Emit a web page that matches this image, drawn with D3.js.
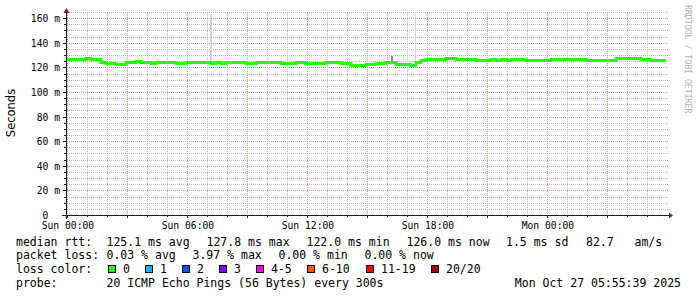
<!DOCTYPE html>
<html>
<head>
<meta charset="utf-8">
<script src="https://cdn.jsdelivr.net/npm/d3@7/dist/d3.min.js"></script>
<style>
  body { margin: 0; background: #fff; }
  svg text { font-family: "DejaVu Sans Mono", monospace; fill: #000; }
</style>
</head>
<body>
<div id="chart"></div>
<script>
// smokeping style graph: last 30 hours, one median per 15 min
var startTime = new Date(2025, 9, 25, 23, 55, 39),
    endTime = new Date(2025, 9, 27, 5, 55, 39);

var medianRtt = [
    127.2, 126.6, 126.6, 126.6, 127.3, 126.4, 126.6, 124.0, 123.4, 123.4,
    122.8, 123.0, 124.5, 124.5, 125.3, 124.2, 124.2, 123.3, 124.0, 124.0,
    124.0, 124.0, 123.3, 123.3, 124.0, 124.0, 124.0, 124.0, 124.0, 123.7,
    124.6, 123.4, 124.6, 124.6, 124.1, 124.1, 123.5, 123.5, 124.6, 124.6,
    124.6, 124.0, 124.0, 123.7, 123.7, 123.7, 124.6, 124.6, 123.8, 123.8,
    123.3, 123.3, 124.1, 124.1, 124.1, 123.3, 123.3, 122.3, 122.3, 122.3,
    122.5, 123.1, 123.3, 123.3, 124.2, 124.2, 123.1, 123.1, 123.1, 122.1,
    124.6, 126.3, 126.6, 126.6, 126.6, 126.6, 127.4, 127.4, 126.9, 126.9,
    126.6, 126.6, 126.1, 126.1, 126.1, 126.4, 126.1, 126.4, 126.1, 126.4,
    126.9, 126.9, 126.1, 126.1, 126.1, 126.1, 126.1, 127.0, 127.0, 127.0,
    126.6, 127.0, 127.0, 126.6, 126.3, 126.3, 126.3, 126.3, 125.6, 125.8,
    127.4, 127.4, 127.4, 127.4, 127.4, 127.0, 127.0, 126.1, 126.1, 126.0
];

// single 5 min samples that lost pings
var lossMinute = [431, 1040];
var lossCount = [1, 1];

// smoke outliers above the median (minutes from start, top in ms)
var smokeMinute = [270, 434, 951, 975, 1047];
var smokeTop = [127.2, 163.0, 126.8, 129.6, 163.0];
var smokeShade = ["#dcdcdc", "#d6d6d6", "#d6d6d6", "#8a8a8a", "#d6d6d6"];

var yTicks = [0, 20, 40, 60, 80, 100, 120, 140, 160];

var lossLabels = ["0", "1", "2", "3", "4-5", "6-10", "11-19", "20/20"];
var lossColors = ["#26ff00", "#00b8ff", "#0059ff", "#7e00ff", "#ff00ff", "#ff5500", "#ff0000", "#a10000"];

var rttStats = ["125.1 ms avg", "127.8 ms max", "122.0 ms min", "126.0 ms now", "1.5 ms sd", "82.7   am/s"];
var lossStats = ["0.03 % avg", "3.97 % max", "0.00 % min", "0.00 % now"];
var probeText = "20 ICMP Echo Pings (56 Bytes) every 300s";
var stampText = "Mon Oct 27 05:55:39 2025";

var W = 697, H = 297;
var svg = d3.select("#chart").append("svg").attr("width", W).attr("height", H);
svg.append("rect").attr("width", W).attr("height", H).attr("fill", "#fff");

var x = d3.scaleTime().domain([startTime, endTime]).range([66, 666]),
    y = d3.scaleLinear().domain([0, 165]).range([215.5, 12.5]);

function px(v) { return Math.floor(v) + 0.5; }

var grid = svg.append("g");

// horizontal grid, minor every 5 ms, major every 20 ms
var yMinor = d3.range(0, 166, 5);
grid.selectAll(".hg").data(yMinor).enter().append("line")
    .attr("x1", 67).attr("x2", 669)
    .attr("y1", function(d) { return px(y(d)); })
    .attr("y2", function(d) { return px(y(d)); })
    .attr("stroke", function(d) { return d % 20 == 0 ? "#e38f8f" : "#b4b4b4"; })
    .attr("stroke-dasharray", "1,1");

// vertical grid, minor every hour, major every 3 hours
var hours = d3.timeHour.range(startTime, endTime);
grid.selectAll(".vg").data(hours).enter().append("line")
    .attr("x1", function(d) { return px(x(d)); })
    .attr("x2", function(d) { return px(x(d)); })
    .attr("y1", 13).attr("y2", 215)
    .attr("stroke", function(d) { return d.getHours() % 3 == 0 ? "#e38f8f" : "#b4b4b4"; })
    .attr("stroke-dasharray", "1,1");

// smoke outliers
var fiveMin = 5 * 60000;
function medianAt(t) {
    var i = Math.min(medianRtt.length - 1, Math.floor((t - startTime) / (15 * 60000)));
    return medianRtt[i];
}
svg.append("g").selectAll("rect").data(smokeMinute).enter().append("rect")
    .attr("x", function(d) { return Math.floor(x(new Date(+startTime + d * 60000))); })
    .attr("width", function(d, i) { return i == 2 || i == 4 ? 1 : 2; })
    .attr("y", function(d, i) { return Math.floor(y(smokeTop[i])); })
    .attr("height", function(d, i) {
        var t = new Date(+startTime + d * 60000);
        return Math.max(1, Math.floor(y(medianAt(t))) - Math.floor(y(smokeTop[i])));
    })
    .attr("fill", function(d, i) { return smokeShade[i]; });

// median line
var pts = medianRtt.map(function(v, i) {
    return {t: new Date(+startTime + i * 15 * 60000), v: v};
});
pts.push({t: endTime, v: medianRtt[medianRtt.length - 1]});

var line = d3.line()
    .curve(d3.curveStepAfter)
    .x(function(d) { return Math.round(x(d.t)); })
    .y(function(d) { return px(y(d.v)); });

svg.append("path")
    .datum(pts)
    .attr("d", line)
    .attr("fill", "none")
    .attr("stroke", lossColors[0])
    .attr("stroke-width", 3);

// loss coloured samples
svg.append("g").selectAll("line").data(lossMinute).enter().append("line")
    .attr("x1", function(d) { return Math.round(x(new Date(+startTime + d * 60000))); })
    .attr("x2", function(d) { return Math.round(x(new Date(+startTime + d * 60000 + fiveMin))); })
    .attr("y1", function(d) { return px(y(medianAt(new Date(+startTime + d * 60000)))); })
    .attr("y2", function(d) { return px(y(medianAt(new Date(+startTime + d * 60000)))); })
    .attr("stroke", function(d, i) { return lossColors[lossCount[i]]; })
    .attr("stroke-width", 3);

// axes
var axisCol = "#1f1f1f", arrowCol = "#801f1f";
svg.append("line").attr("x1", 62).attr("x2", 670).attr("y1", 215.5).attr("y2", 215.5)
    .attr("stroke", axisCol);
svg.append("line").attr("x1", 66.5).attr("x2", 66.5).attr("y1", 219).attr("y2", 11)
    .attr("stroke", axisCol);
svg.append("path").attr("d", "M669,212.5L673,215.5L669,218.5Z").attr("fill", arrowCol);
svg.append("path").attr("d", "M63.5,13L66.5,8L69.5,13Z").attr("fill", arrowCol);

// y ticks and labels
svg.append("g").selectAll("line").data(yMinor).enter().append("line")
    .attr("x1", function(d) { return d % 20 == 0 ? 63 : 64; }).attr("x2", 66)
    .attr("y1", function(d) { return px(y(d)); })
    .attr("y2", function(d) { return px(y(d)); })
    .attr("stroke", axisCol);

var tickFont = 9.7, adv = tickFont * 0.602;
svg.append("g").selectAll("text").data(yTicks).enter().append("text")
    .attr("x", function(d) { return d == 0 ? 60 - 2 * adv : 60; })
    .attr("y", function(d) { return px(y(d)) + 3.5; })
    .attr("text-anchor", "end")
    .style("font-size", tickFont + "px")
    .text(function(d) { return d == 0 ? "0" : d + " m"; });

// x ticks and labels
svg.append("g").selectAll("line").data(hours).enter().append("line")
    .attr("x1", function(d) { return px(x(d)); })
    .attr("x2", function(d) { return px(x(d)); })
    .attr("y1", 215).attr("y2", function(d) { return d.getHours() % 3 == 0 ? 218 : 217; })
    .attr("stroke", axisCol);

var fmt = d3.timeFormat("%a %H:%M");
svg.append("g").selectAll("text").data(d3.timeHour.every(6).range(startTime, endTime)).enter().append("text")
    .attr("x", function(d) { return x(d) + 0.5; })
    .attr("y", 228.5)
    .attr("text-anchor", "middle")
    .style("font-size", tickFont + "px")
    .text(fmt);

// vertical titles
svg.append("text")
    .attr("transform", "translate(15,113) rotate(-90)")
    .attr("text-anchor", "middle")
    .style("font-family", "'DejaVu Sans', sans-serif")
    .style("font-size", "11.5px")
    .text("Seconds");

svg.append("text")
    .attr("transform", "translate(685,5) rotate(90)")
    .style("font-size", "8.2px")
    .style("fill", "#b0b0b0")
    .text("RRDTOOL / TOBI OETIKER");

// legend
var lf = "11.5px";
var rows = [245.5, 259.2, 272.9, 286.5];
function ltext(xp, yp, s, anchor) {
    return svg.append("text").attr("x", xp).attr("y", yp)
        .attr("text-anchor", anchor || "start")
        .style("font-size", lf).style("white-space", "pre").text(s);
}

ltext(16, rows[0], "median rtt:");
var rttX = [106.5, 206.5, 306.5, 406.5, 506, 586];
rttStats.forEach(function(s, i) { ltext(rttX[i], rows[0], s); });

ltext(16, rows[1], "packet loss:");
lossStats.forEach(function(s, i) { ltext(106.5 + i * 86, rows[1], s); });

ltext(16, rows[2], "loss color:");
var boxX = [108, 145, 182, 219, 256, 307, 366, 431];
var lg = svg.append("g").selectAll("g").data(lossLabels).enter().append("g");
lg.append("rect")
    .attr("x", function(d, i) { return boxX[i] + 0.5; })
    .attr("y", 265.5).attr("width", 7).attr("height", 7)
    .attr("fill", function(d, i) { return lossColors[i]; })
    .attr("stroke", "#000");
lg.append("text")
    .attr("x", function(d, i) { return boxX[i] + 15; })
    .attr("y", rows[2])
    .style("font-size", lf)
    .text(function(d) { return d; });

ltext(16, rows[3], "probe:");
ltext(106.5, rows[3], probeText);
ltext(681, rows[3], stampText, "end");
</script>
</body>
</html>
